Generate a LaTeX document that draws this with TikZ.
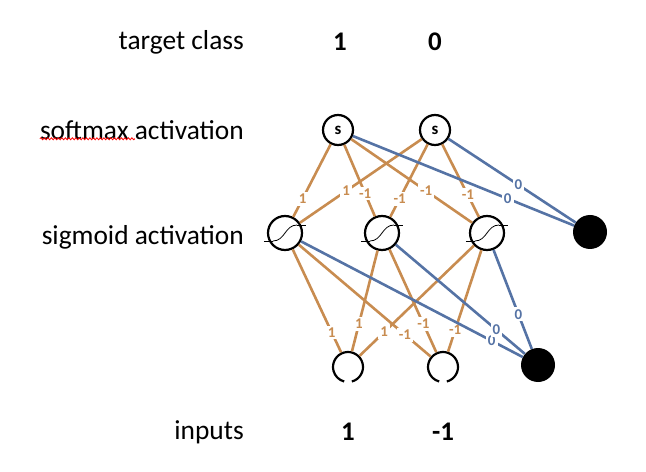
\documentclass[tikz,border=0pt]{standalone}
\usepackage{fontspec}
\setmainfont{Carlito}
\usetikzlibrary{decorations.pathmorphing}
\definecolor{wOrange}{RGB}{200,140,80}
\definecolor{wBlue}{RGB}{85,115,165}
\tikzset{
  unit/.style={circle, draw, line width=2.2bp, minimum size=#1, inner sep=0pt},
  bias/.style={circle, fill=black, minimum size=34bp, inner sep=0pt},
  pos wt/.style={draw=wOrange, line width=2.6bp},
  zero wt/.style={draw=wBlue, line width=2.6bp},
  wlab/.style={fill=white, inner sep=2bp, font=\fontsize{15}{17}\selectfont\bfseries},
  rowlab/.style={font=\fontsize{27.5}{32}\selectfont, anchor=east, inner sep=0pt},
  num/.style={font=\fontsize{27}{31}\selectfont\bfseries}
}
\begin{document}
\begin{tikzpicture}[x=1bp, y=-1bp]
\useasboundingbox (0,0) rectangle (646,472);
% row labels
\node[rowlab] (tgt) at (244,42) {target class};
\node[rowlab] (smx) at (244,130) {softmax activation};
\node[rowlab] (sgm) at (244,237) {sigmoid activation};
\node[rowlab] (inp) at (244,432) {inputs};
\draw[red, line width=0.8bp, decorate, decoration={snake, amplitude=1bp, segment length=3.5bp}]
  (smx.south west) ++(0,-1) -- ++(95,0);
% numbers
\node[num] (t1) at (340,42) {1};
\node[num] (t0) at (435,42) {0};
\node[num] (x1) at (348,432) {1};
\node[num] (x2) at (443,432) {-1};
% units
\node[unit=30bp, font=\fontsize{17}{20}\selectfont\bfseries] (s1) at (338,130) {s};
\node[unit=30bp, font=\fontsize{17}{20}\selectfont\bfseries] (s2) at (435,130) {s};
\foreach \n/\x in {h1/285, h2/382, h3/487} {
  \node[unit=34bp] (\n) at (\x,233) {};
  \draw[line width=0.8bp] (\n.center) ++(-12,8) .. controls ++(12,0) and ++(-12,0) .. ++(24,-16);
  \draw[line width=0.8bp] (\n.west) ++(-3,8) -- ++(9,0);
  \draw[line width=0.8bp] (\n.east) ++(-6,-8) -- ++(9,0);
}
\node[bias] (b2) at (590,232) {};
\foreach \n/\x in {i1/348, i2/443} {
  \node[circle, minimum size=30bp, inner sep=0pt] (\n) at (\x,367) {};
  \draw[line width=2.2bp] (\n.center) ++(75:15) arc (75:-255:15);
}
\node[bias] (b1) at (538,365) {};
% softmax layer weights
\foreach \a/\b/\w/\p in {s1/h1/1/0.75, s2/h1/1/0.62, s1/h2/-1/0.68, s2/h2/-1/0.75,
                          s1/h3/-1/0.62, s2/h3/-1/0.7} {
  \draw[pos wt] (\a) -- node[wlab, text=wOrange, pos=\p] {\w} (\b);
}
\draw[zero wt] (s1) -- node[wlab, text=wBlue, pos=0.7] {0} (b2);
\draw[zero wt] (s2) -- node[wlab, text=wBlue, pos=0.55] {0} (b2);
% sigmoid layer weights
\foreach \a/\b/\w/\p in {h1/i1/1/0.8, h2/i1/1/0.72, h3/i1/1/0.78,
                          h1/i2/-1/0.8, h2/i2/-1/0.72, h3/i2/-1/0.78} {
  \draw[pos wt, shorten >=1bp] (\a) -- node[wlab, text=wOrange, pos=\p] {\w} (\b);
}
\draw[zero wt] (h1) -- node[wlab, text=wBlue, pos=0.86] {0} (b1);
\draw[zero wt] (h2) -- node[wlab, text=wBlue, pos=0.78] {0} (b1);
\draw[zero wt] (h3) -- node[wlab, text=wBlue, pos=0.65] {0} (b1);
\end{tikzpicture}
\end{document}
